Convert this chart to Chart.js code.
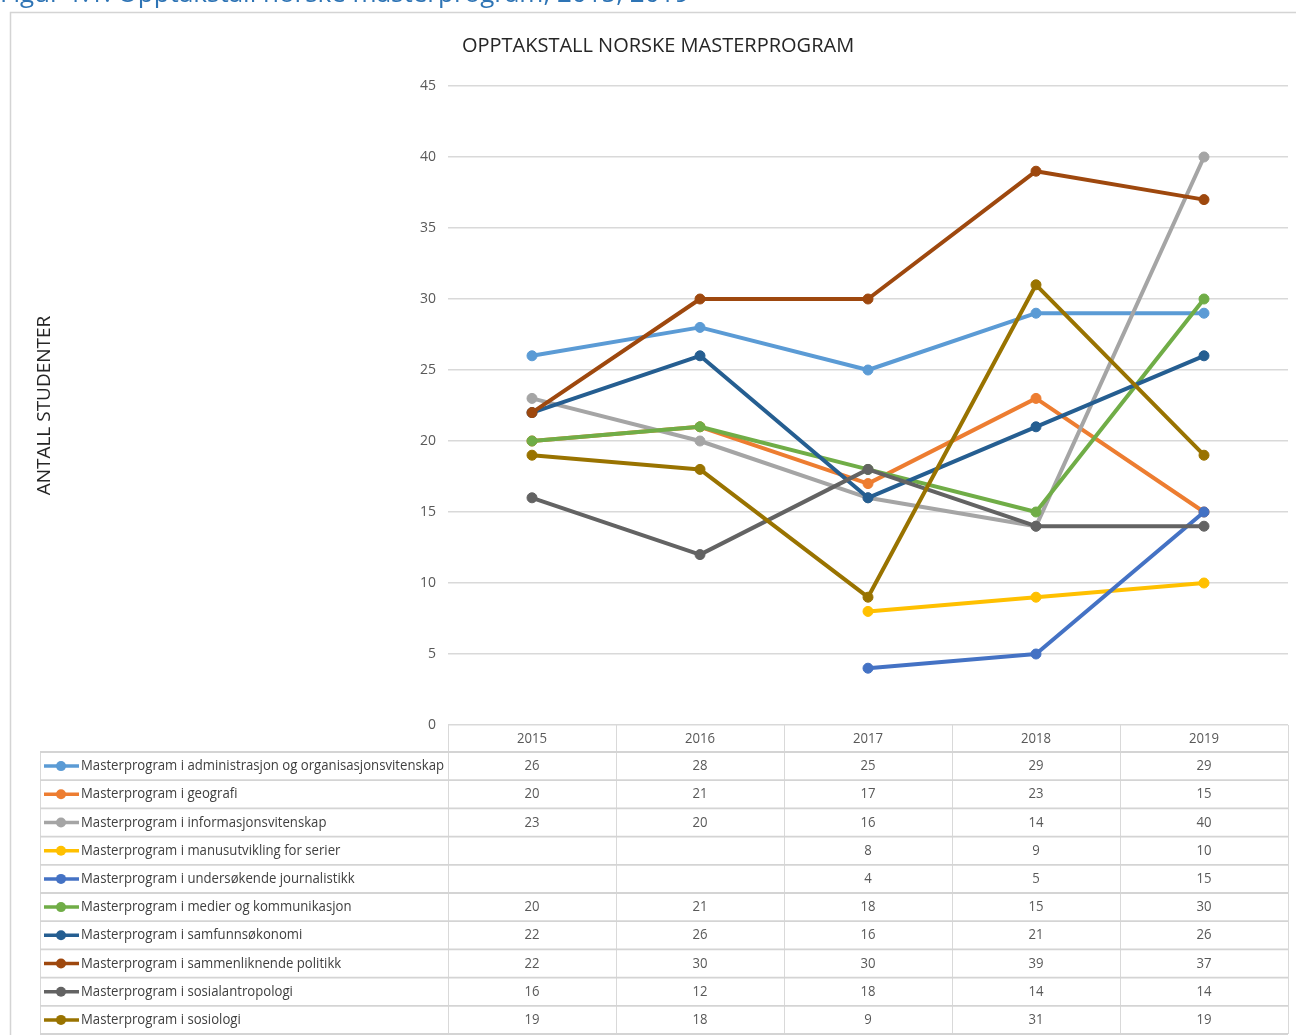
<!DOCTYPE html>
<html>
<head>
<meta charset="utf-8">
<script src="https://cdn.jsdelivr.net/npm/chart.js@4"></script>
<style>
  html, body { margin: 0; padding: 0; background: #ffffff; overflow: hidden; }
  #caption {
    position: absolute; left: 0px; top: -26px; white-space: nowrap; z-index: 2;
    font-family: 'Open Sans', sans-serif; font-size: 26px; color: #2e74b5;
  }
  #chart { position: absolute; left: 0; top: 0; z-index: 1; }
</style>
</head>
<body>
<div id="caption">Figur 1.1: Opptakstall norske masterprogram, 2015, 2019</div>
<canvas id="chart" width="1296" height="1035"></canvas>
<script>
// Kategorier (år)
const years = ['2015', '2016', '2017', '2018', '2019'];

// Navn på serier
const programNames = [
  'Masterprogram i administrasjon og organisasjonsvitenskap',
  'Masterprogram i geografi',
  'Masterprogram i informasjonsvitenskap',
  'Masterprogram i manusutvikling for serier',
  'Masterprogram i undersøkende journalistikk',
  'Masterprogram i medier og kommunikasjon',
  'Masterprogram i samfunnsøkonomi',
  'Masterprogram i sammenliknende politikk',
  'Masterprogram i sosialantropologi',
  'Masterprogram i sosiologi'
];

// Opptakstall per program
const administrasjon = [26, 28, 25, 29, 29];
const geografi = [20, 21, 17, 23, 15];
const informasjonsvitenskap = [23, 20, 16, 14, 40];
const manusutvikling = [null, null, 8, 9, 10];
const journalistikk = [null, null, 4, 5, 15];
const medier = [20, 21, 18, 15, 30];
const samfunnsokonomi = [22, 26, 16, 21, 26];
const politikk = [22, 30, 30, 39, 37];
const sosialantropologi = [16, 12, 18, 14, 14];
const sosiologi = [19, 18, 9, 31, 19];

// Akse
const yTicks = { min: 0, max: 45, step: 5 };

const seriesValues = [administrasjon, geografi, informasjonsvitenskap, manusutvikling, journalistikk,
  medier, samfunnsokonomi, politikk, sosialantropologi, sosiologi];

const colors = ['#5b9bd5', '#ed7d31', '#a5a5a5', '#ffc000', '#4472c4',
  '#70ad47', '#255e91', '#9e480e', '#636363', '#997300'];

const datasets = seriesValues.map((values, i) => ({
  label: programNames[i],
  data: values,
  borderColor: colors[i],
  backgroundColor: colors[i],
  borderWidth: 4,
  pointRadius: 5,
  pointBorderWidth: 1,
  pointBorderColor: colors[i],
  pointBackgroundColor: colors[i],
  borderJoinStyle: 'round',
  borderCapStyle: 'round',
  tension: 0,
  order: seriesValues.length - i // siste serie tegnes øverst, som i Excel
}));

const ROW_H = 28.2;
const HEADER_H = 27;
const TABLE_LEFT = 40;
const TEXT_FONT = "14.5px 'Open Sans', sans-serif";

// Ramme, tittel og datatabell
const tablePlugin = {
  id: 'tablePlugin',
  beforeDraw(chart) {
    const ctx = chart.ctx;
    ctx.save();
    ctx.fillStyle = '#ffffff';
    ctx.fillRect(0, 0, chart.width, chart.height);
    ctx.strokeStyle = '#d4d4d4';
    ctx.lineWidth = 1.5;
    ctx.strokeRect(10.5, 12.5, 1400, 1100);
    ctx.restore();
  },
  afterDraw(chart) {
    const ctx = chart.ctx;
    const area = chart.chartArea;
    const xs = chart.scales.x;
    const colW = xs.getPixelForValue(1) - xs.getPixelForValue(0);
    const top = area.bottom;
    const firstRow = top + HEADER_H;
    const bottom = firstRow + ROW_H * programNames.length;

    ctx.save();
    // tittel
    ctx.fillStyle = '#262626';
    ctx.font = "20px 'Open Sans', sans-serif";
    ctx.textAlign = 'center';
    ctx.textBaseline = 'middle';
    ctx.fillText('OPPTAKSTALL NORSKE MASTERPROGRAM', 658, 46);

    // tabell-linjer
    ctx.strokeStyle = '#d9d9d9';
    ctx.lineWidth = 1;
    for (let c = 0; c <= years.length; c++) {
      const x = Math.round(area.left + c * colW) + 0.5;
      ctx.beginPath();
      ctx.moveTo(x, top);
      ctx.lineTo(x, bottom);
      ctx.stroke();
    }
    ctx.beginPath();
    ctx.moveTo(TABLE_LEFT + 0.5, firstRow);
    ctx.lineTo(TABLE_LEFT + 0.5, bottom);
    ctx.stroke();
    ctx.lineWidth = 1.8;
    ctx.strokeStyle = '#d4d4d4';
    for (let r = 0; r <= programNames.length; r++) {
      const y = firstRow + r * ROW_H;
      ctx.beginPath();
      ctx.moveTo(TABLE_LEFT, y);
      ctx.lineTo(area.right, y);
      ctx.stroke();
    }

    // smal skrift: komprimer horisontalt slik at lengste navn får riktig bredde
    ctx.font = TEXT_FONT;
    const sx = 363 / ctx.measureText(programNames[0]).width;
    ctx.textBaseline = 'middle';

    // år
    ctx.fillStyle = '#595959';
    ctx.textAlign = 'center';
    years.forEach((yr, c) => {
      ctx.save();
      ctx.translate(xs.getPixelForValue(c), top + HEADER_H / 2);
      ctx.scale(sx, 1);
      ctx.fillText(yr, 0, 0);
      ctx.restore();
    });

    programNames.forEach((name, r) => {
      const cy = firstRow + r * ROW_H + ROW_H / 2;
      // legendnøkkel
      ctx.strokeStyle = colors[r];
      ctx.fillStyle = colors[r];
      ctx.lineWidth = 3.5;
      ctx.beginPath();
      ctx.moveTo(44, cy);
      ctx.lineTo(79, cy);
      ctx.stroke();
      ctx.beginPath();
      ctx.arc(61, cy, 5, 0, Math.PI * 2);
      ctx.fill();
      // navn
      ctx.fillStyle = '#404040';
      ctx.textAlign = 'left';
      ctx.save();
      ctx.translate(81, cy);
      ctx.scale(sx, 1);
      ctx.fillText(name, 0, 0);
      ctx.restore();
      // verdier
      ctx.fillStyle = '#595959';
      ctx.textAlign = 'center';
      seriesValues[r].forEach((v, c) => {
        if (v === null) return;
        ctx.save();
        ctx.translate(xs.getPixelForValue(c), cy);
        ctx.scale(sx, 1);
        ctx.fillText(String(v), 0, 0);
        ctx.restore();
      });
    });
    ctx.restore();
  }
};

new Chart(document.getElementById('chart').getContext('2d'), {
  type: 'line',
  data: { labels: years, datasets: datasets },
  options: {
    responsive: false,
    animation: false,
    layout: { padding: { left: 33, right: 8, top: 86, bottom: 0 } },
    plugins: {
      legend: { display: false },
      tooltip: { enabled: false },
      title: { display: false }
    },
    scales: {
      x: {
        offset: true,
        grid: { display: false },
        border: { display: false },
        ticks: { display: false },
        afterFit(scale) { scale.height = 1035 - 725; }
      },
      y: {
        min: yTicks.min,
        max: yTicks.max,
        ticks: {
          stepSize: yTicks.step,
          padding: 12,
          color: '#595959',
          font: { family: 'Open Sans', size: 14 }
        },
        grid: { color: '#d9d9d9', lineWidth: 1.5, drawTicks: false },
        border: { display: false },
        title: {
          display: true,
          text: 'ANTALL STUDENTER',
          color: '#262626',
          font: { family: 'Open Sans', size: 19 },
          padding: 0
        },
        afterFit(scale) { scale.width = 415; }
      }
    }
  },
  plugins: [tablePlugin]
});
</script>
</body>
</html>
